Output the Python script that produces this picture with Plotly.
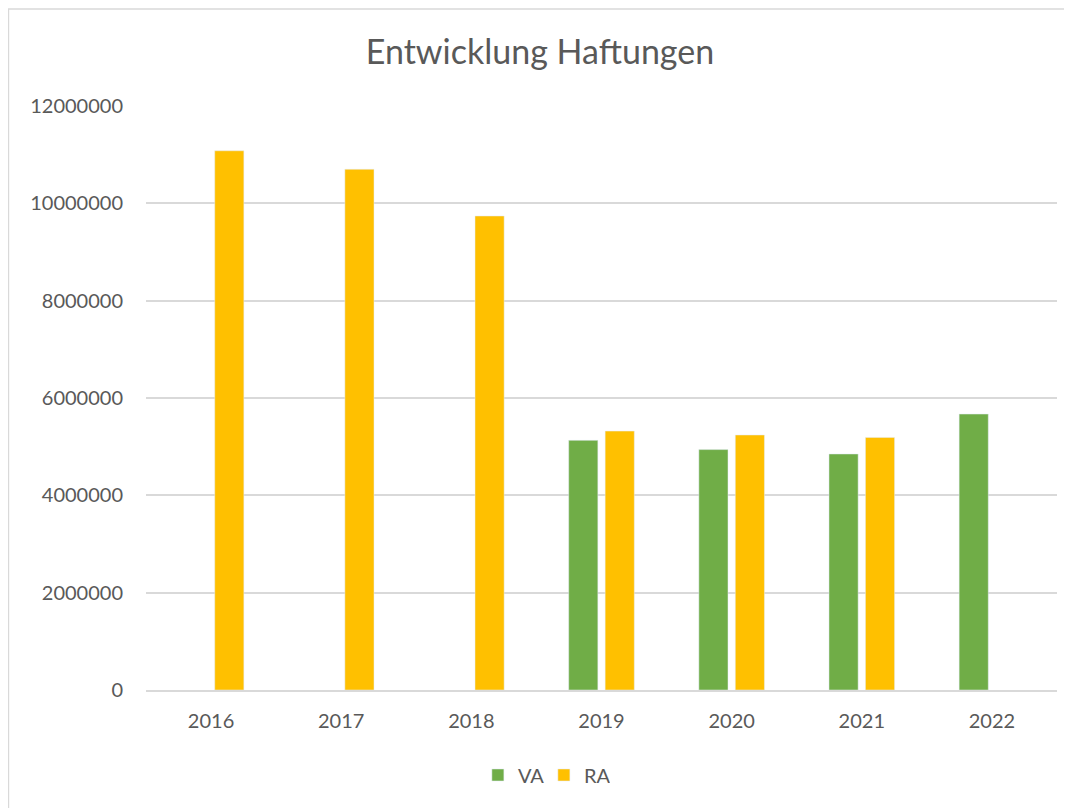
import plotly.graph_objects as go

years = ["2016", "2017", "2018", "2019", "2020", "2021", "2022"]
va = [None, None, None, 5130000, 4940000, 4850000, 5670000]
ra = [11080000, 10700000, 9740000, 5320000, 5240000, 5190000, None]

text_color = "#595959"
grid_color = "#D9D9D9"

fig = go.Figure()
fig.add_trace(go.Bar(x=years, y=va, name="VA", marker_color="#70AD47"))
fig.add_trace(go.Bar(x=years, y=ra, name="RA", marker_color="#FFC000"))

# page body has an 8px margin, so the figure is a bit smaller than the window
fig.update_layout(
    width=1064,
    height=800,
    margin=dict(l=138, r=15, t=98, b=118),
    paper_bgcolor="white",
    plot_bgcolor="white",
    font=dict(family="Lato, Carlito, Liberation Sans, sans-serif", size=20, color=text_color),
    title=dict(
        text="Entwicklung Haftungen",
        x=0.5,
        xanchor="center",
        y=0.945,
        yanchor="middle",
        font=dict(size=34, color=text_color),
    ),
    barmode="group",
    bargap=0.44,
    bargroupgap=0.2,
    legend=dict(
        orientation="h",
        x=0.3643,
        xanchor="left",
        y=-0.1455,
        yanchor="middle",
        font=dict(size=20, color=text_color),
        itemwidth=30,
        entrywidth=21,
        traceorder="normal",
    ),
    shapes=[
        dict(
            type="rect",
            xref="paper",
            yref="paper",
            x0=-0.151,
            x1=1.05,
            y0=-0.3,
            y1=1.166,
            line=dict(color="#D9D9D9", width=1.5),
            layer="below",
        )
    ],
)

fig.update_xaxes(
    showgrid=False,
    showline=True,
    linecolor=grid_color,
    linewidth=1.5,
    ticks="outside",
    ticklen=12,
    tickcolor="rgba(0,0,0,0)",
    tickfont=dict(size=20, color=text_color),
)
fig.update_yaxes(
    range=[0, 12000000],
    dtick=2000000,
    tickformat="d",
    showgrid=True,
    gridcolor=grid_color,
    gridwidth=1.5,
    zeroline=False,
    showline=False,
    ticks="outside",
    ticklen=18,
    tickcolor="rgba(0,0,0,0)",
    tickfont=dict(size=20, color=text_color),
)

fig.write_html("out.html")
